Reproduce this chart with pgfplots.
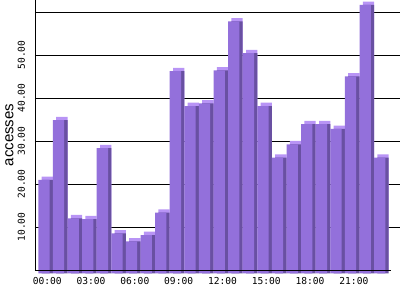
\documentclass[border=0pt]{standalone}
\usepackage{pgfplots}
\pgfplotsset{compat=1.18}
\usepackage{pgfplotstable}
\usepackage{fontspec}
\setmainfont{Liberation Sans}
\newfontfamily\monofont{DejaVu Sans Mono}
\definecolor{barfront}{RGB}{147,112,219}
\definecolor{barside}{RGB}{105,80,162}
\definecolor{bartop}{RGB}{184,148,245}
\pgfplotstableread{
h v
0 21.7
1 35.6
2 12.8
3 12.6
4 29.1
5 9.3
6 7.4
7 8.9
8 14.1
9 47.0
10 38.9
11 39.5
12 47.2
13 58.6
14 51.2
15 38.9
16 26.9
17 30.0
18 34.7
19 34.7
20 33.6
21 45.8
22 62.4
23 26.9
}\data
\begin{document}
\begin{tikzpicture}[x=1pt,y=1pt]
\useasboundingbox (0,0) rectangle (400,300);
\begin{axis}[
  at={(35pt,30pt)}, anchor=south west,
  scale only axis, width=365pt, height=270pt,
  xmin=-0.839, xmax=24.16, ymin=0, ymax=62.79,
  clip=false,
  axis line style={draw=none},
  tick style={draw=none},
  ymajorgrids, grid style={black, line width=0.9pt},
  xtick={0,3,...,21},
  xticklabels={00:00,03:00,06:00,09:00,12:00,15:00,18:00,21:00},
  ytick={10,20,...,60},
  yticklabels={10.00,20.00,30.00,40.00,50.00,{}},
  xticklabel style={font=\monofont\fontsize{9.6}{10}\selectfont, anchor=base, yshift=-15pt},
  yticklabel style={font=\monofont\fontsize{9.6}{10}\selectfont, xshift=-10pt, rotate=90, anchor=base},
  ylabel={accesses},
  every axis y label/.style={at={(axis description cs:0,0.5)}, xshift=-25.5pt, rotate=90, anchor=center, font=\fontsize{15}{15}\selectfont},
]
\addplot[ybar, bar width=11.3pt, bar shift=0pt, fill=bartop, draw=none] table[x=h,y=v]{\data};
\addplot[ybar, bar width=11.3pt, bar shift=0pt, fill=barside, draw=none, yshift=-3.3pt] table[x=h,y=v]{\data};
\addplot[ybar, bar width=11.3pt, bar shift=0pt, fill=barfront, draw=none, xshift=-3.3pt, yshift=-3.3pt] table[x=h,y=v]{\data};
\draw[black, line width=0.9pt] (rel axis cs:0,0) -- (rel axis cs:0,1);
\draw[black, line width=0.9pt] (rel axis cs:0,0) -- (axis cs:23.55,0);
\end{axis}
\end{tikzpicture}
\end{document}
